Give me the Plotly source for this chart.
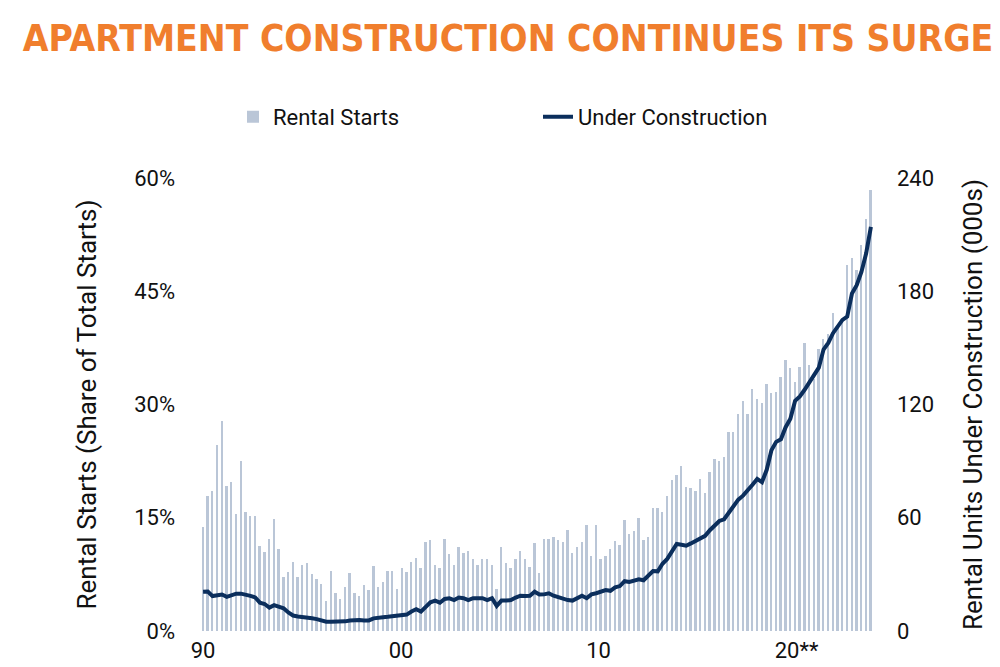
import plotly.graph_objects as go

# rental starts, share of total starts (%), one bar per period from 1990
rental_starts = [
    13.8, 17.9, 18.5, 24.7, 27.8, 19.2, 19.7, 15.5, 22.5, 15.8, 15.2, 15.2,
    11.3, 10.4, 12.2, 14.9, 10.8, 7.1, 7.8, 9.1, 7.2, 8.7, 9.0, 7.6,
    6.9, 6.2, 4.0, 8.0, 5.0, 4.3, 5.8, 7.7, 5.1, 4.7, 6.1, 5.4,
    8.6, 5.8, 6.5, 7.9, 7.9, 5.6, 8.3, 7.8, 9.1, 9.7, 8.3, 11.8,
    12.1, 8.7, 8.3, 12.2, 10.2, 8.7, 11.1, 10.3, 10.6, 9.5, 8.7, 9.6,
    9.5, 8.7, 5.6, 11.1, 9.0, 8.3, 9.5, 10.6, 9.5, 8.5, 11.6, 7.7,
    12.2, 12.2, 12.5, 12.0, 11.8, 13.4, 10.3, 11.1, 11.8, 14.1, 10.0, 14.1,
    9.5, 9.9, 10.8, 11.9, 11.4, 14.7, 12.8, 13.3, 15.0, 12.1, 12.5, 16.3,
    16.3, 15.8, 17.9, 20.0, 20.6, 21.9, 19.1, 19.0, 18.5, 20.1, 18.3, 21.1,
    22.8, 22.5, 23.0, 26.4, 26.4, 28.8, 30.4, 28.7, 32.1, 30.7, 30.2, 32.7,
    31.5, 31.6, 33.7, 35.9, 34.8, 33.0, 35.0, 38.1, 35.2, 33.4, 37.3, 38.7,
    39.4, 42.1, 40.1, 41.3, 48.5, 49.4, 47.8, 51.1, 54.6, 58.4,
]

# rental units under construction (000s)
under_construction = [
    20.8, 20.9, 18.5, 19.0, 19.3, 18.1, 18.7, 19.8, 19.8, 19.4, 18.6, 17.8,
    15.0, 14.3, 12.4, 13.7, 12.9, 12.0, 9.8, 8.2, 7.7, 7.2, 7.0, 6.7,
    6.3, 5.6, 4.9, 4.9, 4.8, 4.8, 5.1, 5.6, 5.8, 5.8, 5.6, 5.6,
    6.7, 7.2, 7.3, 7.5, 7.7, 8.0, 8.0, 8.7, 10.3, 11.5, 10.3, 12.6,
    15.2, 16.1, 15.0, 17.0, 17.3, 16.4, 17.7, 17.4, 16.4, 17.4, 17.4, 17.4,
    16.4, 17.4, 13.3, 16.1, 16.1, 16.4, 17.7, 18.7, 18.5, 18.7, 20.8, 19.3,
    19.4, 20.0, 18.7, 17.8, 17.3, 16.4, 16.1, 17.4, 18.7, 17.4, 19.4, 20.0,
    20.8, 21.7, 21.3, 23.1, 23.8, 26.4, 26.0, 26.9, 27.4, 26.9, 29.5, 31.8,
    31.6, 35.6, 38.2, 42.1, 46.1, 45.7, 45.2, 46.4, 47.8, 49.2, 50.4, 53.4,
    56.2, 58.3, 59.2, 62.7, 66.7, 69.6, 71.7, 74.4, 77.5, 80.6, 78.9, 85.4,
    95.8, 100.2, 101.6, 108.0, 112.4, 122.0, 124.3, 127.8, 131.6, 136.0, 139.5, 149.1,
    152.6, 157.8, 161.3, 164.8, 166.6, 178.8, 183.2, 190.2, 200.1, 214.1,
]

periods = list(range(len(rental_starts)))
tick_pos = [0, 41.8, 83.5, 125.3]
tick_text = ["90", "00", "10", "20**"]
left_ticks = [0, 15, 30, 45, 60]
left_text = ["0%", "15%", "30%", "45%", "60%"]
right_ticks = [0, 60, 120, 180, 240]

fig = go.Figure()
fig.add_trace(go.Bar(x=periods, y=rental_starts, name="Rental Starts",
                     marker_color="#BAC6D7", marker_line_width=0, width=0.4))
fig.add_trace(go.Scatter(x=periods, y=under_construction, name="Under Construction",
                         mode="lines", line=dict(color="#0B2E5C", width=4), yaxis="y2"))

font = "Roboto, Arial, sans-serif"
fig.update_layout(
    width=1000, height=667,
    margin=dict(l=190, r=130, t=170, b=39),
    paper_bgcolor="white", plot_bgcolor="white",
    font=dict(family=font, size=22, color="#111"),
    title=dict(text="<b>APARTMENT CONSTRUCTION CONTINUES ITS SURGE</b>",
               x=0.5, xanchor="center", y=0.955, yanchor="middle",
               font=dict(family="DejaVu Sans Condensed, DejaVu Sans, sans-serif", size=37, color="#F07E2D")),
    showlegend=True,
    legend=dict(orientation="h", x=0.5, xanchor="center", y=1.135, yanchor="middle",
                font=dict(size=22), entrywidth=260, traceorder="normal"),
    bargap=0,
    xaxis=dict(range=[-1.07, 142.5], tickvals=tick_pos, ticktext=tick_text,
               showgrid=False, zeroline=False, showline=False, ticks="",
               ticklabelstandoff=4),
    yaxis=dict(range=[0, 60], tickvals=left_ticks, ticktext=left_text,
               title=dict(text="Rental Starts (Share of Total Starts)", standoff=30),
               showgrid=False, zeroline=False, ticks="", ticklabelstandoff=22),
    yaxis2=dict(range=[0, 240], tickvals=right_ticks, overlaying="y", side="right",
                title=dict(text="Rental Units Under Construction (000s)", standoff=30),
                showgrid=False, zeroline=False, ticks="", ticklabelstandoff=18),
)

fig.write_html("out.html")
